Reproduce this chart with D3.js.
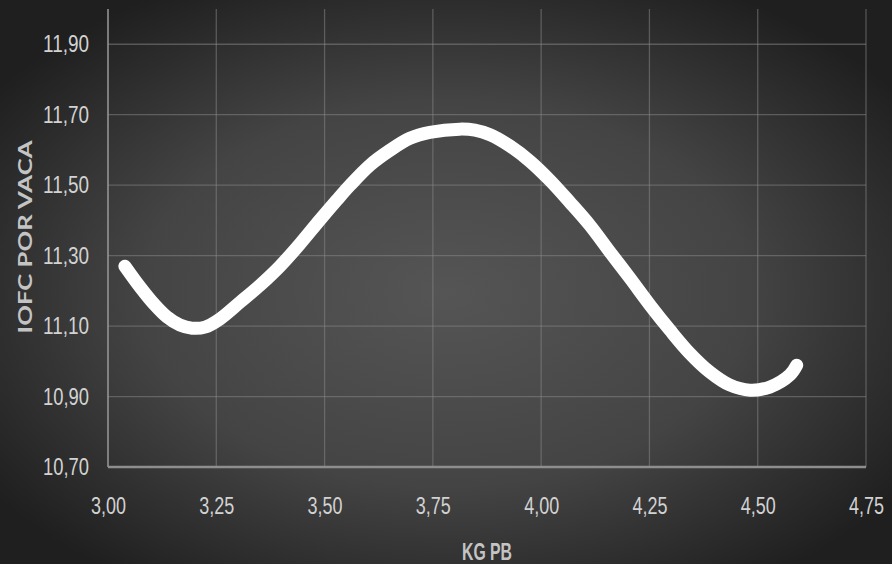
<!DOCTYPE html>
<html>
<head>
<meta charset="utf-8">
<script src="https://cdn.jsdelivr.net/npm/d3@7"></script>
<style>
  html, body { margin: 0; padding: 0; background: #2a2a2a; }
  svg { display: block; }
</style>
</head>
<body>
<div id="chart"></div>
<script>
// KG PB vs IOFC por vaca
const kgPB = [3.039, 3.074, 3.108, 3.136, 3.166, 3.194, 3.224, 3.258, 3.305, 3.351,
  3.397, 3.443, 3.489, 3.528, 3.559, 3.605, 3.651, 3.697, 3.743, 3.812,
  3.847, 3.882, 3.928, 3.974, 4.020, 4.066, 4.112, 4.159, 4.205, 4.251, 4.297,
  4.343, 4.389, 4.435, 4.482, 4.528, 4.574, 4.590];
const iofc = [11.270, 11.211, 11.160, 11.126, 11.103, 11.094, 11.097, 11.120, 11.168, 11.216,
  11.270, 11.333, 11.401, 11.457, 11.500, 11.557, 11.599, 11.633, 11.650, 11.659,
  11.656, 11.643, 11.611, 11.568, 11.514, 11.452, 11.387, 11.310, 11.236, 11.160, 11.089,
  11.023, 10.970, 10.933, 10.918, 10.927, 10.961, 10.989];
const xTicks = [3.00, 3.25, 3.50, 3.75, 4.00, 4.25, 4.50, 4.75];
const yTicks = [10.70, 10.90, 11.10, 11.30, 11.50, 11.70, 11.90];

const W = 892, H = 564;
const margin = { top: 9, right: 26, bottom: 97, left: 108 };
const width = W - margin.left - margin.right;
const height = H - margin.top - margin.bottom;

const svg = d3.select("#chart").append("svg")
  .attr("width", W)
  .attr("height", H);

const defs = svg.append("defs");
const bg = defs.append("radialGradient")
  .attr("id", "bg")
  .attr("cx", "50%").attr("cy", "52%").attr("r", "62%");
bg.append("stop").attr("offset", "0%").attr("stop-color", "#555555");
bg.append("stop").attr("offset", "55%").attr("stop-color", "#444444");
bg.append("stop").attr("offset", "100%").attr("stop-color", "#1f1f1f");

svg.append("rect").attr("width", W).attr("height", H).attr("fill", "url(#bg)");

const g = svg.append("g").attr("transform", `translate(${margin.left},${margin.top})`);

const x = d3.scaleLinear().domain([3.0, 4.75]).range([0, width]);
const y = d3.scaleLinear().domain([10.7, 12.0]).range([height, 0]);
const fmt = v => d3.format(".2f")(v).replace(".", ",");

// grid
g.append("g").selectAll("line").data(xTicks.slice(1)).join("line")
  .attr("x1", d => x(d)).attr("x2", d => x(d))
  .attr("y1", 0).attr("y2", height)
  .attr("stroke", "#8a8a8a").attr("stroke-opacity", 0.5).attr("stroke-width", 1.3);

g.append("g").selectAll("line").data(yTicks.slice(1)).join("line")
  .attr("x1", 0).attr("x2", width)
  .attr("y1", d => y(d)).attr("y2", d => y(d))
  .attr("stroke", "#8a8a8a").attr("stroke-opacity", 0.5).attr("stroke-width", 1.3);

// axis lines
g.append("line").attr("x1", 0).attr("x2", 0).attr("y1", 0).attr("y2", height)
  .attr("stroke", "#9a9a9a").attr("stroke-width", 1.5);
g.append("line").attr("x1", 0).attr("x2", width).attr("y1", height).attr("y2", height)
  .attr("stroke", "#8e8e8e").attr("stroke-width", 2.5);

// tick labels (squeezed like the original)
const yAxis = d3.axisLeft(y).tickValues(yTicks).tickFormat(fmt).tickSize(0).tickPadding(19);
const xAxis = d3.axisBottom(x).tickValues(xTicks).tickFormat(fmt).tickSize(0).tickPadding(30);

g.append("g").call(yAxis)
  .call(a => a.select(".domain").remove())
  .selectAll("text")
  .attr("fill", "#d2d2d2")
  .attr("textLength", 46)
  .attr("lengthAdjust", "spacingAndGlyphs")
  .style("font-family", "'Liberation Sans', sans-serif")
  .style("font-size", "24px");

g.append("g").attr("transform", `translate(0,${height})`).call(xAxis)
  .call(a => a.select(".domain").remove())
  .selectAll("text")
  .attr("fill", "#d2d2d2")
  .attr("textLength", 35)
  .attr("lengthAdjust", "spacingAndGlyphs")
  .style("font-family", "'Liberation Sans', sans-serif")
  .style("font-size", "24px");

// axis titles
svg.append("text")
  .attr("transform", `translate(32,237) scale(0.8,1) rotate(-90)`)
  .attr("text-anchor", "middle")
  .attr("fill", "#c4c4c4")
  .attr("textLength", 193)
  .attr("lengthAdjust", "spacingAndGlyphs")
  .style("font-family", "Lato, 'Open Sans', sans-serif")
  .style("font-weight", "bold")
  .style("font-size", "23px")
  .text("IOFC POR VACA");

svg.append("text")
  .attr("x", margin.left + width / 2)
  .attr("y", 560)
  .attr("text-anchor", "middle")
  .attr("fill", "#c4c4c4")
  .attr("textLength", 50)
  .attr("lengthAdjust", "spacingAndGlyphs")
  .style("font-family", "'Liberation Sans', sans-serif")
  .style("font-weight", "bold")
  .style("font-size", "24px")
  .text("KG PB");

// curve
const pts = kgPB.map((d, i) => [d, iofc[i]]);
const line = d3.line()
  .x(d => x(d[0]))
  .y(d => y(d[1]))
  .curve(d3.curveCatmullRom.alpha(0.5));

g.append("path")
  .datum(pts)
  .attr("d", line)
  .attr("fill", "none")
  .attr("stroke", "#ffffff")
  .attr("stroke-width", 13)
  .attr("stroke-linecap", "round")
  .attr("stroke-linejoin", "round");
</script>
</body>
</html>
